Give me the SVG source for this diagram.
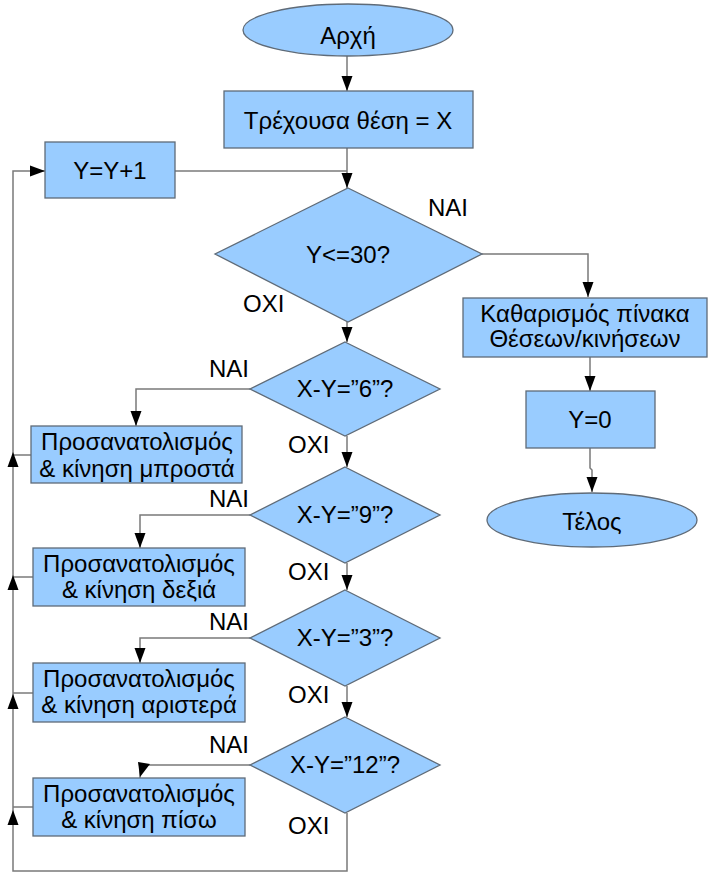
<svg xmlns="http://www.w3.org/2000/svg" xmlns:xlink="http://www.w3.org/1999/xlink" width="708" height="874" viewBox="0 0 708 874">
  <style>
    .shape { fill: #99ccff; stroke: #5f6b78; stroke-width: 1.3; }
    .lbl { font-family: "Liberation Sans", "DejaVu Sans", Arial, sans-serif; font-size: 24px; fill: #000; text-anchor: middle; }
    .tag { font-family: "Liberation Sans", "DejaVu Sans", Arial, sans-serif; font-size: 24px; fill: #000; text-anchor: start; }
    .wire { fill: none; stroke: #7a7a7a; stroke-width: 1.5; }
    .head { fill: #000; }
  </style>
  <defs>
    <marker id="arrow" markerUnits="userSpaceOnUse" markerWidth="16" markerHeight="12" viewBox="-15 -6 16 12" refX="0" refY="0" orient="auto">
      <path d="M0,0 L-15,-5.5 L-15,5.5 Z" fill="#000"/>
    </marker>
    <path id="ah" d="M0,0 L-15,-5.5 L-15,5.5 Z"/>
  </defs>

  <rect width="708" height="874" fill="#ffffff"/>

  <!-- connectors -->
  <g id="connectors">
    <path class="wire" d="M347,56 V91" marker-end="url(#arrow)"/>
    <path class="wire" d="M347,148 V188" marker-end="url(#arrow)"/>
    <path class="wire" d="M175,171 H347"/>
    <path class="wire" d="M482,254 H588 V297" marker-end="url(#arrow)"/>
    <path class="wire" d="M590,357 V391" marker-end="url(#arrow)"/>
    <path class="wire" d="M590,448 V468 L592,470 V492" marker-end="url(#arrow)"/>
    <path class="wire" d="M347,322 V342" marker-end="url(#arrow)"/>
    <path class="wire" d="M250,389 H136 V426" marker-end="url(#arrow)"/>
    <path class="wire" d="M347,436 V467" marker-end="url(#arrow)"/>
    <path class="wire" d="M250,515 H140 V548" marker-end="url(#arrow)"/>
    <path class="wire" d="M347,563 V590" marker-end="url(#arrow)"/>
    <path class="wire" d="M250,638 H140 V663" marker-end="url(#arrow)"/>
    <path class="wire" d="M347,686 V717" marker-end="url(#arrow)"/>
    <path class="wire" d="M250,765 H140 V778"/>
    <polygon class="head" points="138,762 150,764 140,777"/>
    <!-- return loop back to the counter -->
    <path class="wire" d="M347,813 V871 H13 V171 H45" marker-end="url(#arrow)"/>
    <path class="wire" d="M31,455 H13"/>
    <path class="wire" d="M33,577 H13"/>
    <path class="wire" d="M33,693 H13"/>
    <path class="wire" d="M33,807 H13"/>
    <use xlink:href="#ah" class="head" transform="translate(13,452) rotate(-90)"/>
    <use xlink:href="#ah" class="head" transform="translate(13,575) rotate(-90)"/>
    <use xlink:href="#ah" class="head" transform="translate(13,694) rotate(-90)"/>
    <use xlink:href="#ah" class="head" transform="translate(13,810) rotate(-90)"/>
  </g>

  <!-- edge labels -->
  <g id="edge-labels">
    <text class="tag" x="428" y="216">ΝΑΙ</text>
    <text class="tag" x="243" y="312">ΟΧΙ</text>
    <text class="tag" x="209" y="377">ΝΑΙ</text>
    <text class="tag" x="288" y="453">ΟΧΙ</text>
    <text class="tag" x="209" y="507">ΝΑΙ</text>
    <text class="tag" x="288" y="580">ΟΧΙ</text>
    <text class="tag" x="209" y="630">ΝΑΙ</text>
    <text class="tag" x="288" y="703">ΟΧΙ</text>
    <text class="tag" x="209" y="753">ΝΑΙ</text>
    <text class="tag" x="288" y="834">ΟΧΙ</text>
  </g>

  <g id="start">
    <ellipse class="shape" cx="348" cy="30" rx="105" ry="26"/>
    <text class="lbl" x="348" y="44">Αρχή</text>
  </g>

  <g id="current-position">
    <rect class="shape" x="224" y="91" width="249" height="57"/>
    <text class="lbl" x="348" y="129">Τρέχουσα θέση = Χ</text>
  </g>

  <g id="increment">
    <rect class="shape" x="45" y="142" width="130" height="56"/>
    <text class="lbl" x="110" y="179">Y=Y+1</text>
  </g>

  <g id="check-limit">
    <polygon class="shape" points="348,188 482,254 348,322 215,254"/>
    <text class="lbl" x="348" y="263">Y&lt;=30?</text>
  </g>

  <g id="clear-table">
    <rect class="shape" x="463" y="298" width="244" height="59"/>
    <text class="lbl" x="585" y="322">Καθαρισμός πίνακα</text>
    <text class="lbl" x="585" y="347">Θέσεων/κινήσεων</text>
  </g>

  <g id="reset">
    <rect class="shape" x="526" y="391" width="129" height="57"/>
    <text class="lbl" x="590" y="428">Y=0</text>
  </g>

  <g id="end">
    <ellipse class="shape" cx="592" cy="520" rx="105" ry="27"/>
    <text class="lbl" x="592" y="530">Τέλος</text>
  </g>

  <g id="check-6">
    <polygon class="shape" points="345,342 440,389 345,436 250,389"/>
    <text class="lbl" x="345" y="397">X-Y=”6”?</text>
  </g>

  <g id="move-forward">
    <rect class="shape" x="31" y="426" width="211" height="57"/>
    <text class="lbl" x="137" y="450">Προσανατολισμός</text>
    <text class="lbl" x="137" y="477">&amp; κίνηση μπροστά</text>
  </g>

  <g id="check-9">
    <polygon class="shape" points="345,467 440,515 345,563 250,515"/>
    <text class="lbl" x="345" y="523">X-Y=”9”?</text>
  </g>

  <g id="move-right">
    <rect class="shape" x="33" y="548" width="212" height="58"/>
    <text class="lbl" x="139" y="572">Προσανατολισμός</text>
    <text class="lbl" x="139" y="598">&amp; κίνηση δεξιά</text>
  </g>

  <g id="check-3">
    <polygon class="shape" points="345,590 440,638 345,686 250,638"/>
    <text class="lbl" x="345" y="646">X-Y=”3”?</text>
  </g>

  <g id="move-left">
    <rect class="shape" x="33" y="663" width="212" height="59"/>
    <text class="lbl" x="139" y="687">Προσανατολισμός</text>
    <text class="lbl" x="139" y="713">&amp; κίνηση αριστερά</text>
  </g>

  <g id="check-12">
    <polygon class="shape" points="345,717 440,765 345,813 250,765"/>
    <text class="lbl" x="345" y="773">X-Y=”12”?</text>
  </g>

  <g id="move-back">
    <rect class="shape" x="33" y="778" width="212" height="58"/>
    <text class="lbl" x="139" y="802">Προσανατολισμός</text>
    <text class="lbl" x="139" y="828">&amp; κίνηση πίσω</text>
  </g>
</svg>
